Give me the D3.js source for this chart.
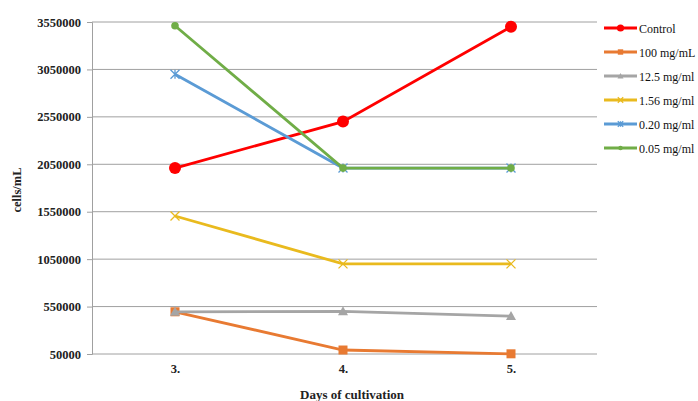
<!DOCTYPE html>
<html><head><meta charset="utf-8">
<script src="https://cdn.jsdelivr.net/npm/d3@7"></script>
<style>body{margin:0;background:#fff}svg{display:block}</style>
</head><body>
<svg id="c" width="698" height="401"></svg>
<script>
const days = ["3.", "4.", "5."];
const yTicks = [50000, 550000, 1050000, 1550000, 2050000, 2550000, 3050000, 3550000];
const seriesNames = ["Control", "100 mg/mL", "12.5 mg/ml", "1.56 mg/ml", "0.20 mg/ml", "0.05 mg/ml"];
const control = [2010000, 2500000, 3500000];
const mg100 = [495000, 92000, 52000];
const mg12_5 = [495000, 500000, 450000];
const mg1_56 = [1505000, 1000000, 1000000];
const mg0_20 = [3000000, 2010000, 2010000];
const mg0_05 = [3510000, 2010000, 2010000];
const seriesValues = [control, mg100, mg12_5, mg1_56, mg0_20, mg0_05];
const colors = ["#FF0000", "#E87A32", "#A5A5A5", "#E9BA1E", "#5B9BD5", "#70AD47"];
const markers = ["bigcircle", "square", "triangle", "x", "star", "circle"];

const svg = d3.select("#c");
const x = d3.scalePoint().domain(days).range([91, 595]).padding(0.5);
const y = d3.scaleLinear().domain([50000, 3550000]).range([354, 22]);
const font = "'Liberation Serif', 'Times New Roman', serif";

// gridlines
svg.append("g").selectAll("line").data(yTicks).join("line")
  .attr("x1", 92).attr("x2", 597)
  .attr("y1", d => y(d)).attr("y2", d => y(d))
  .attr("stroke", "#A0A0A0").attr("stroke-width", 1);

// y axis
const ya = svg.append("g").attr("transform", "translate(92,0)")
  .call(d3.axisLeft(y).tickValues(yTicks).tickSize(5).tickPadding(6).tickFormat(d3.format("d")));
ya.select(".domain").attr("stroke", "#A0A0A0");
ya.selectAll(".tick line").attr("stroke", "#A0A0A0");
ya.selectAll("text").attr("font-family", font).attr("font-weight", "bold")
  .attr("font-size", 12.5).attr("fill", "#222");

// x axis labels
const xa = svg.append("g").attr("transform", "translate(0,354)")
  .call(d3.axisBottom(x).tickSize(0).tickPadding(10));
xa.select(".domain").remove();
xa.selectAll("text").attr("font-family", font).attr("font-weight", "bold")
  .attr("font-size", 12.5).attr("fill", "#222");

// titles
svg.append("text").attr("x", 352).attr("y", 399).attr("text-anchor", "middle")
  .attr("font-family", font).attr("font-weight", "bold").attr("font-size", 13)
  .attr("fill", "#222").text("Days of cultivation");
svg.append("text").attr("transform", "translate(21,190) rotate(-90)").attr("text-anchor", "middle")
  .attr("font-family", font).attr("font-weight", "bold").attr("font-size", 12.5)
  .attr("fill", "#222").text("cells/mL");

function drawMarker(g, type, cx, cy, color, scale) {
  const s = scale || 1;
  if (type === "bigcircle") {
    g.append("circle").attr("cx", cx).attr("cy", cy).attr("r", 6 * s).attr("fill", color);
  } else if (type === "circle") {
    g.append("circle").attr("cx", cx).attr("cy", cy).attr("r", 3.8 * s).attr("fill", color);
  } else if (type === "square") {
    const h = 4.5 * s;
    g.append("rect").attr("x", cx - h).attr("y", cy - h).attr("width", 2 * h).attr("height", 2 * h).attr("fill", color);
  } else if (type === "triangle") {
    const h = 5 * s;
    g.append("path").attr("d", `M${cx},${cy - h}L${cx + h},${cy + h * 0.8}L${cx - h},${cy + h * 0.8}Z`).attr("fill", color);
  } else if (type === "x") {
    const h = 4.5 * s;
    g.append("path").attr("d", `M${cx - h},${cy - h}L${cx + h},${cy + h}M${cx - h},${cy + h}L${cx + h},${cy - h}`)
      .attr("stroke", color).attr("stroke-width", 1.3).attr("fill", "none");
  } else if (type === "star") {
    const h = 4.5 * s;
    g.append("path").attr("d", `M${cx - h},${cy - h}L${cx + h},${cy + h}M${cx - h},${cy + h}L${cx + h},${cy - h}M${cx},${cy - h}L${cx},${cy + h}`)
      .attr("stroke", color).attr("stroke-width", 1.3).attr("fill", "none");
  }
}

const line = d3.line().x((d, i) => x(days[i])).y(d => y(d));
seriesValues.forEach((vals, si) => {
  const g = svg.append("g");
  g.append("path").datum(vals).attr("d", line).attr("fill", "none")
    .attr("stroke", colors[si]).attr("stroke-width", 2.8);
  vals.forEach((v, i) => drawMarker(g, markers[si], x(days[i]), y(v), colors[si]));
});

// legend
const lg = svg.append("g");
seriesNames.forEach((name, i) => {
  const ly = 28 + 24 * i;
  lg.append("line").attr("x1", 604).attr("x2", 637).attr("y1", ly).attr("y2", ly)
    .attr("stroke", colors[i]).attr("stroke-width", 2.8);
  drawMarker(lg, markers[i], 620.5, ly, colors[i], 0.6);
  lg.append("text").attr("x", 639).attr("y", ly + 4.5).attr("font-family", font)
    .attr("font-size", 12).attr("fill", "#111").text(name);
});
</script>
</body></html>
